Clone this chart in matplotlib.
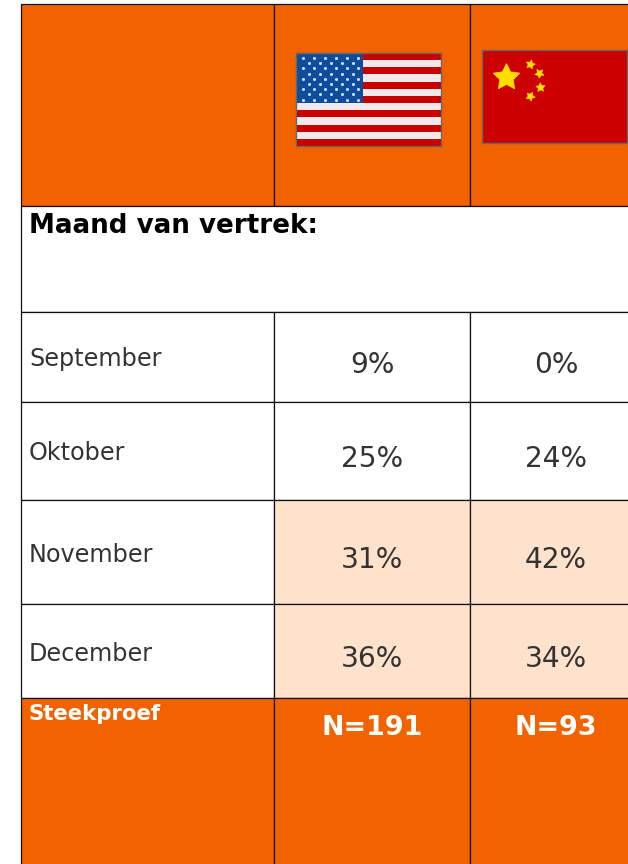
import matplotlib
matplotlib.use("Agg")
import matplotlib.pyplot as plt
from matplotlib.patches import Rectangle

plt.rcParams['font.family'] = ['DejaVu Sans']

months = ["September", "Oktober", "November", "December"]
usa = ["9%", "25%", "31%", "36%"]
china = ["0%", "24%", "42%", "34%"]
sample_label = "Steekproef"
sample_n = ["N=191", "N=93"]
section_title = "Maand van vertrek:"

ORANGE = "#f26300"
PEACH = "#ffe2cc"
TEXT = "#333333"
LINE = "#111111"

# table grid in pixels
col_x = [21, 274, 470, 640]
head_y = [4, 206, 312]
row_y = [312, 402, 500, 604, 698]
bottom_y = 870
month_text_y = [359, 453, 555, 654]
value_text_y = [365, 459, 560, 659]
col_center = [372, 556]

fig = plt.figure(figsize=(6.28, 8.64), dpi=100)
ax = fig.add_axes([0, 0, 1, 1])
ax.set_xlim(0, 628)
ax.set_ylim(864, 0)
ax.axis("off")


def cell(x0, x1, y0, y1, color):
    ax.add_patch(Rectangle((x0, y0), x1 - x0, y1 - y0, facecolor=color,
                           edgecolor=LINE, linewidth=0.9, zorder=1))


# header
for i in range(3):
    cell(col_x[i], col_x[i + 1], head_y[0], head_y[1], ORANGE)
cell(col_x[0], col_x[3], head_y[1], head_y[2], "white")
ax.text(29, 226, section_title, fontsize=18.8, fontweight="bold", color="black", va="center")

# month rows
for r, month in enumerate(months):
    y0, y1 = row_y[r], row_y[r + 1]
    shade = "white" if r < 2 else PEACH
    cell(col_x[0], col_x[1], y0, y1, "white")
    cell(col_x[1], col_x[2], y0, y1, shade)
    cell(col_x[2], col_x[3], y0, y1, shade)
    ax.text(29, month_text_y[r], month, fontsize=17.2, color=TEXT, va="center")
    ax.text(col_center[0], value_text_y[r], usa[r], fontsize=20.2, color=TEXT, ha="center", va="center")
    ax.text(col_center[1], value_text_y[r], china[r], fontsize=20.2, color=TEXT, ha="center", va="center")

# sample row
for i in range(3):
    cell(col_x[i], col_x[i + 1], row_y[-1], bottom_y, ORANGE)
ax.text(29, 714, sample_label, fontsize=15.3, fontweight="bold", color="white", va="center")
ax.text(col_center[0], 728, sample_n[0], fontsize=19.4, fontweight="bold", color="white", ha="center", va="center")
ax.text(col_center[1], 728, sample_n[1], fontsize=19.4, fontweight="bold", color="white", ha="center", va="center")

# usa flag
fx0, fx1, fy0, fy1 = 296, 441, 53, 146
stripe = (fy1 - fy0) / 13
for s in range(13):
    c = "#c80000" if s % 2 == 0 else "#f3e9ea"
    ax.add_patch(Rectangle((fx0, fy0 + s * stripe), fx1 - fx0, stripe, facecolor=c, edgecolor="none", zorder=2))
ax.add_patch(Rectangle((fx0, fy0), 67, stripe * 7, facecolor="#0f4c9c", edgecolor="none", zorder=3))
for j in range(9):
    n = 6 if j % 2 == 0 else 5
    off = 6.7 if j % 2 == 0 else 13
    for k in range(n):
        ax.plot(fx0 + off + k * 11, fy0 + 5 + j * 5.2, "o", ms=2.2, color="#cfe0f2", mew=0, zorder=4)
ax.add_patch(Rectangle((fx0, fy0), fx1 - fx0, fy1 - fy0, facecolor="none", edgecolor="#666666", linewidth=1, zorder=5))

# china flag
ax.add_patch(Rectangle((482, 50), 145, 93, facecolor="#cc0000", edgecolor="#666666", linewidth=1, zorder=2))
ax.plot(506, 77, marker=(5, 1, 0), ms=20, color="#ffdd00", mew=0.6, zorder=3)
small_angle = [130, 105, 75, 45]
for (sx, sy), a in zip([(530, 64), (539, 73), (540, 87), (530, 96)], small_angle):
    ax.plot(sx, sy, marker=(5, 1, a), ms=7, color="#ffdd00", mew=0.4, zorder=3)

fig.savefig("out.png", dpi=100)
